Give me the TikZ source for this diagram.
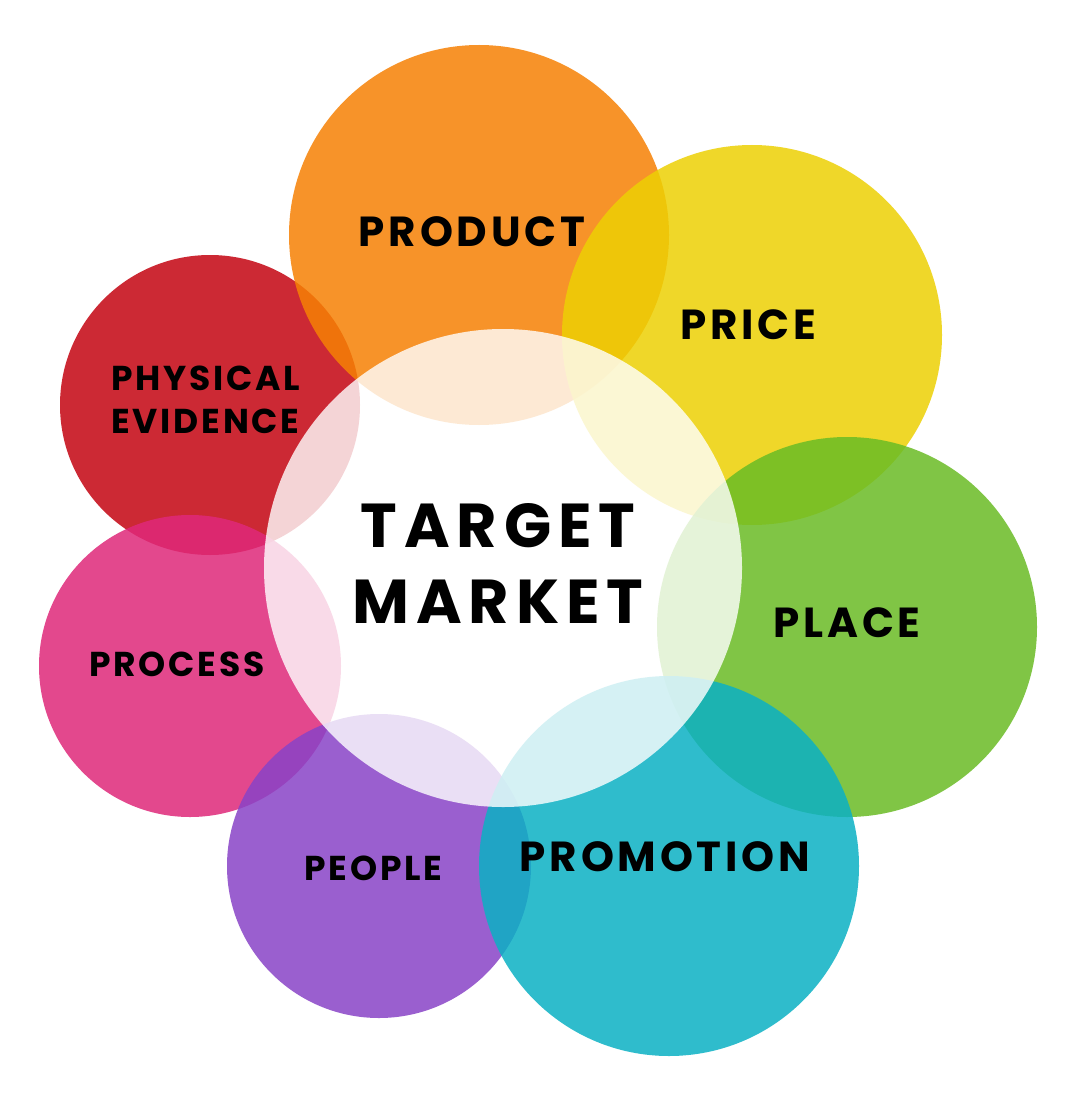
\documentclass[tikz,border=0pt]{standalone}
\usepackage{fontspec}
\newfontfamily\popbig[LetterSpace=9]{Poppins}
\newfontfamily\popsmall[LetterSpace=8]{Poppins}
\newfontfamily\poptitle[LetterSpace=11]{Poppins}
\definecolor{cRed}{RGB}{196,4,17}
\definecolor{cOrange}{RGB}{246,129,4}
\definecolor{cYellow}{RGB}{237,208,4}
\definecolor{cGreen}{RGB}{106,188,37}
\definecolor{cPink}{RGB}{223,40,122}
\definecolor{cPurple}{RGB}{137,67,199}
\definecolor{cTeal}{RGB}{11,177,196}
\tikzset{
  bubble/.style={circle, inner sep=0pt, draw=none, fill opacity=0.85, minimum size=#1},
  core/.style={circle, inner sep=0pt, draw=none, fill=white, fill opacity=0.8, minimum size=#1},
  biglabel/.style={inner sep=0pt, align=center, text=black, font=\popbig\bfseries\fontsize{42}{50}\selectfont},
  smalllabel/.style={inner sep=0pt, align=center, text=black, font=\popsmall\bfseries\fontsize{34.5}{43}\selectfont},
  titlelabel/.style={inner sep=0pt, align=center, text=black, font=\poptitle\bfseries\fontsize{62}{76}\selectfont},
}
\begin{document}
\begin{tikzpicture}[x=1pt,y=-1pt]
\useasboundingbox (0,0) rectangle (1084,1099);
\fill[white] (0,0) rectangle (1084,1099);
\node[bubble=300, fill=cRed] (phys) at (210,405) {};
\node[bubble=380, fill=cOrange] (prod) at (479,235) {};
\node[bubble=380, fill=cYellow] (price) at (752,335) {};
\node[bubble=380, fill=cGreen] (place) at (847,627) {};
\node[bubble=302, fill=cPink] (proc) at (190,666) {};
\node[bubble=304, fill=cPurple] (people) at (379,866) {};
\node[bubble=380, fill=cTeal] (promo) at (669,866) {};
\node[core=478] (target) at (503,568) {};
\node[biglabel] (tprod) at (472,232) {PRODUCT};
\node[biglabel] (tprice) at (748,325) {PRICE};
\node[biglabel] (tplace) at (847,623) {PLACE};
\node[biglabel] (tpromo) at (665,857) {PROMOTION};
\node[smalllabel] (tphys) at (205.5,400) {PHYSICAL\\EVIDENCE};
\node[smalllabel] (tproc) at (177,664) {PROCESS};
\node[smalllabel] (tpeople) at (373.5,868) {PEOPLE};
\node[titlelabel] (ttarget) at (498,563) {TARGET\\MARKET};
\end{tikzpicture}
\end{document}
